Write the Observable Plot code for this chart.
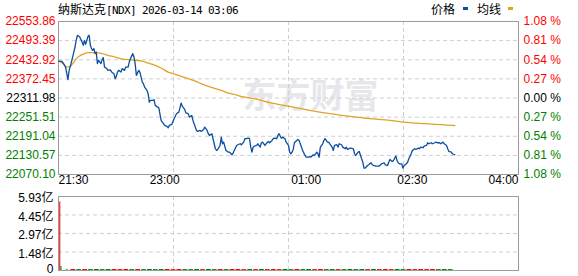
<!DOCTYPE html>
<html><head><meta charset="utf-8">
<script src="https://cdn.jsdelivr.net/npm/d3@7"></script>
<script src="https://cdn.jsdelivr.net/npm/@observablehq/plot@0.6"></script>
<style>
body{margin:0;background:#fff;}
#wrap{position:relative;width:578px;height:276px;overflow:hidden;}
#wrap svg{position:absolute;left:0;}
.ov{position:absolute;white-space:nowrap;line-height:15px;color:#000;}
.cjk{font-family:"Noto Sans CJK SC",sans-serif;font-size:12px;}
.mono{font-family:"DejaVu Sans Mono",monospace;font-size:11px;letter-spacing:-0.62px;}
.sw{position:absolute;width:5px;height:3px;}
</style></head>
<body>
<div id="wrap">
  <div class="ov" style="left:58px;top:1px;"><span class="cjk">纳斯达克</span><span class="mono">[NDX] 2026-03-14 03:06</span></div>
  <div class="ov cjk" style="left:431px;top:1px;">价格</div>
  <div class="sw" style="left:463px;top:7px;background:#0b4ea2;"></div>
  <div class="ov cjk" style="left:477px;top:1px;">均线</div>
  <div class="sw" style="left:508px;top:7px;background:#e1a326;"></div>
</div>
<script>
// ---- data ----
const title = "纳斯达克[NDX] 2026-03-14 03:06";
const leftTicks = [22553.86, 22493.39, 22432.92, 22372.45, 22311.98, 22251.51, 22191.04, 22130.57, 22070.10];
const pctLabels = ["1.08", "0.81", "0.54", "0.27", "0.00", "0.27", "0.54", "0.81", "1.08"];
const xTickLabels = ["21:30", "23:00", "01:00", "02:30", "04:00"];
const xTickMinutes = [0, 90, 210, 300, 390];
const gridMinutes = [97.5, 195, 292.5];
const volTicks = [0, 1.48, 2.97, 4.45, 5.93];
const volTickLabels = ["0", "1.48亿", "2.97亿", "4.45亿", "5.93亿"];

// minutes since 21:30 and price
const priceMin = [0,3,4,6,7,8,9,10,12,14,15,16,18,20,21,22,23,25,26,27,28,29,30,31,32,33,34,36,37,38,39,41,42,44,45,47,48,49,50,51,53,54,56,57,59,60,61,63,64,65,66,68,69,71,72,73,75,76,77,78,80,81,82,84,85,87,88,90,92,93,94,96,98,100,102,104,105,107,108,110,111,113,114,116,117,118,120,121,123,124,126,127,128,130,131,132,133,134,135,137,138,139,140,142,144,145,147,148,149,151,152,154,155,157,158,159,161,162,163,164,165,166,168,169,171,172,173,175,176,178,179,181,182,183,185,186,187,188,189,190,192,193,195,196,197,198,199,200,202,203,204,206,207,209,210,212,213,214,216,217,219,220,221,222,224,225,226,228,229,230,232,233,234,236,237,238,240,241,243,244,245,247,248,250,251,252,254,255,257,258,259,260,262,263,265,266,267,269,270,272,273,274,276,277,279,280,281,283,284,286,287,288,289,291,292,293,295,296,297,299,300,302,303,305,306,307,309,310,312,313,314,316,317,319,320,321,323,324,326,327,329,330,331,333,334,336];
const priceVal = [22428.8,22427.9,22422.5,22409.8,22389.9,22369.9,22399.4,22412.0,22441.5,22473.2,22494.4,22510.2,22504.8,22489.0,22478.5,22494.4,22481.7,22507.0,22510.2,22478.5,22468.1,22462.7,22468.1,22452.2,22457.3,22420.6,22431.1,22420.6,22433.3,22439.6,22409.8,22404.8,22399.4,22401.0,22394.0,22388.9,22373.1,22380.4,22394.0,22399.4,22394.0,22404.8,22399.4,22409.8,22409.8,22425.7,22436.4,22452.2,22441.5,22420.6,22383.5,22399.4,22394.0,22362.3,22357.3,22346.5,22336.1,22325.6,22299.0,22304.4,22304.4,22306.6,22288.6,22283.2,22281.3,22241.1,22235.7,22225.3,22222.1,22218.0,22225.3,22228.4,22246.5,22262.3,22267.4,22295.9,22285.4,22275.9,22264.8,22262.3,22251.5,22256.9,22241.1,22219.9,22209.4,22206.3,22209.4,22206.3,22212.6,22219.9,22209.4,22199.0,22193.6,22199.0,22183.2,22167.3,22151.5,22146.1,22149.3,22161.9,22188.2,22167.3,22172.4,22146.1,22140.7,22140.7,22132.5,22137.6,22146.1,22161.9,22164.2,22167.3,22164.2,22172.4,22183.2,22183.2,22185.1,22183.2,22156.6,22140.7,22156.6,22159.7,22161.9,22167.3,22156.6,22170.5,22172.4,22161.9,22167.3,22174.6,22170.5,22177.8,22183.2,22185.1,22183.2,22193.6,22199.0,22191.4,22185.1,22188.2,22183.2,22172.4,22161.9,22140.7,22135.7,22140.7,22149.3,22170.5,22177.8,22180.9,22177.8,22156.6,22146.1,22130.3,22124.9,22124.9,22127.1,22124.9,22132.5,22130.3,22140.7,22135.7,22124.9,22156.6,22167.3,22177.8,22183.2,22172.4,22172.4,22167.3,22156.6,22146.1,22161.9,22164.2,22156.6,22167.3,22164.2,22156.6,22151.5,22156.6,22149.3,22153.4,22153.4,22151.5,22135.7,22130.3,22140.7,22143.0,22119.8,22109.1,22090.1,22090.1,22098.6,22100.8,22107.2,22100.8,22098.6,22096.4,22096.4,22096.4,22100.8,22104.0,22107.2,22100.8,22098.6,22109.1,22117.6,22111.3,22114.5,22128.1,22114.5,22107.2,22104.0,22104.0,22090.1,22098.6,22104.0,22109.1,22119.8,22135.7,22146.1,22151.5,22149.3,22153.4,22151.5,22156.6,22154.7,22159.7,22161.9,22170.5,22167.3,22170.5,22167.3,22170.5,22172.4,22170.5,22170.5,22167.3,22172.4,22167.3,22161.9,22151.5,22143.0,22140.7,22135.7,22132.5];

const avgMin = [0,4,7,10,13,16,20,25,31,37,42,48,54,59,65,71,76,82,87,93,97,104,110,116,121,127,133,138,144,149,155,161,166,179,196,213,230,247,264,281,292,303,320,334,336];
const avgVal = [22428.8,22420.6,22409.8,22412.0,22425.7,22439.6,22449.1,22455.4,22455.4,22452.2,22446.9,22441.5,22435.2,22433.3,22431.1,22428.8,22422.5,22415.2,22406.7,22394.0,22388.9,22380.4,22373.1,22365.5,22357.3,22348.7,22341.5,22336.1,22327.5,22323.4,22317.1,22313.0,22309.8,22297.1,22285.4,22272.8,22262.3,22253.8,22246.5,22241.1,22235.7,22232.6,22228.4,22225.3,22225.0];

// volume (亿): opening bars, then 5-minute buckets starting at minute 10
const volOpenMin = [1.5, 2.5, 7.5];
const volOpenVal = [5.49, 0.32, 0.10];
const volOpenDir = ["r", "g", "g"];
const volBucketStart = 10;
const volBucketVal = [0.08,0.07,0.08,0.07,0.08,0.07,0.08,0.08,0.07,0.08,0.07,0.08,0.07,0.08,0.07,0.08,0.08,0.07,0.08,0.07,0.07,0.08,0.07,0.08,0.07,0.08,0.07,0.08,0.08,0.07,0.08,0.07,0.08,0.07,0.08,0.07,0.08,0.07,0.08,0.07,0.08,0.07,0.08,0.07,0.08,0.07,0.07,0.08,0.07,0.08,0.07,0.08,0.07,0.08,0.07,0.08,0.07,0.08,0.07,0.08,0.07,0.08,0.07,0.08,0.07];
const volBucketDir = "rgrggggrrrgrggggrrrgggrggrgrrrgrgrrrggrggrrggrggggrgrrrggrrrrrggg";

// ---- build ----
const RED = "#ff0000", GREEN = "#008000", BLUE = "#0b4ea2", ORANGE = "#e1a326";
const GRID = "#cfcfcf", FRAME = "#9a9a9a";
const FONT = "Liberation Sans, Arial, Noto Sans CJK SC, sans-serif";
const price = d3.range(Math.min(priceMin.length, priceVal.length)).map(i => ({m: priceMin[i], p: priceVal[i]}));
const avg = d3.range(Math.min(avgMin.length, avgVal.length)).map(i => ({m: avgMin[i], p: avgVal[i]}));
const tickColor = i => i < 4 ? RED : i === 4 ? "#000" : GREEN;
const xt = xTickLabels.map((t, i) => ({t, m: xTickMinutes[i]}));

const main = Plot.plot({
  width: 578, height: 192,
  marginTop: 21, marginBottom: 18, marginLeft: 58, marginRight: 60,
  x: {domain: [0, 390], axis: null},
  y: {domain: [leftTicks[leftTicks.length - 1], leftTicks[0]], axis: null},
  color: {type: "identity"},
  style: {fontFamily: FONT, fontSize: "12px", background: "transparent", overflow: "visible"},
  marks: [
    Plot.text(["东方财富"], {frameAnchor: "middle", dx: 22, dy: -1, fontSize: 34, fontWeight: "bold",
      fill: "#e7e7eb", fontFamily: "Noto Sans CJK SC, sans-serif"}),
    Plot.ruleY(leftTicks.slice(1, -1), {stroke: GRID, strokeDasharray: "4,3"}),
    Plot.ruleX(gridMinutes, {stroke: GRID, strokeDasharray: "4,3"}),
    Plot.frame({stroke: FRAME}),
    Plot.line(avg, {x: "m", y: "p", stroke: ORANGE, strokeWidth: 1.3, curve: "monotone-x"}),
    Plot.line(price, {x: "m", y: "p", stroke: BLUE, strokeWidth: 1.3}),
    Plot.text(leftTicks, {y: d => d, text: d => d.toFixed(2), frameAnchor: "left", textAnchor: "end", dx: -3,
      fill: (d, i) => tickColor(i), fontSize: 12}),
    Plot.text(pctLabels, {y: (d, i) => leftTicks[i], text: d => d + " %", frameAnchor: "right", textAnchor: "start", dx: 5,
      fill: (d, i) => tickColor(i), fontSize: 12}),
    Plot.text(xt.slice(0, 1), {x: "m", text: "t", frameAnchor: "bottom", dy: 9, textAnchor: "start", fill: "#000"}),
    Plot.text(xt.slice(1, -1), {x: "m", text: "t", frameAnchor: "bottom", dy: 9, textAnchor: "middle", fill: "#000"}),
    Plot.text(xt.slice(-1), {x: "m", text: "t", frameAnchor: "bottom", dy: 9, textAnchor: "end", fill: "#000"})
  ]
});
main.style.top = "0px";

const openBars = volOpenMin.map((m, i) => ({m, v: volOpenVal[i], c: volOpenDir[i] === "r" ? RED : GREEN}));
const nb = Math.min(volBucketVal.length, volBucketDir.length);
const buckets = d3.range(nb).map(i => ({m: volBucketStart + 5 * i, v: volBucketVal[i], c: volBucketDir[i] === "r" ? RED : GREEN}));
const vt = volTicks.map((v, i) => ({v, t: volTickLabels[i]}));

const vol = Plot.plot({
  width: 578, height: 86,
  marginTop: 6, marginBottom: 6, marginLeft: 58, marginRight: 60,
  x: {domain: [0, 390], axis: null},
  y: {domain: [0, volTicks[volTicks.length - 1]], axis: null},
  color: {type: "identity"},
  style: {fontFamily: FONT, fontSize: "12px", background: "transparent", overflow: "visible"},
  marks: [
    Plot.ruleY(volTicks.slice(1, -1), {stroke: GRID, strokeDasharray: "4,3"}),
    Plot.ruleX(gridMinutes, {stroke: GRID, strokeDasharray: "4,3"}),
    Plot.rectY(buckets, {x1: d => d.m + 0.5, x2: d => d.m + 4.5, y1: 0, y2: "v", fill: "c"}),
    Plot.rectY(openBars, {x1: d => d.m - 0.45, x2: d => d.m + 0.45, y1: 0, y2: "v", fill: "c"}),
    Plot.frame({stroke: FRAME}),
    Plot.text(vt.slice(1), {y: "v", text: "t", frameAnchor: "left", textAnchor: "end", dx: -5, dy: 2,
      fill: "#000", fontSize: 12}),
    Plot.text(vt.slice(0, 1), {y: "v", text: "t", frameAnchor: "left", textAnchor: "end", dx: -5, dy: -1,
      fill: "#000", fontSize: 12})
  ]
});
vol.style.top = "190px";

const wrap = document.getElementById("wrap");
wrap.appendChild(main);
wrap.appendChild(vol);
</script>
</body></html>
